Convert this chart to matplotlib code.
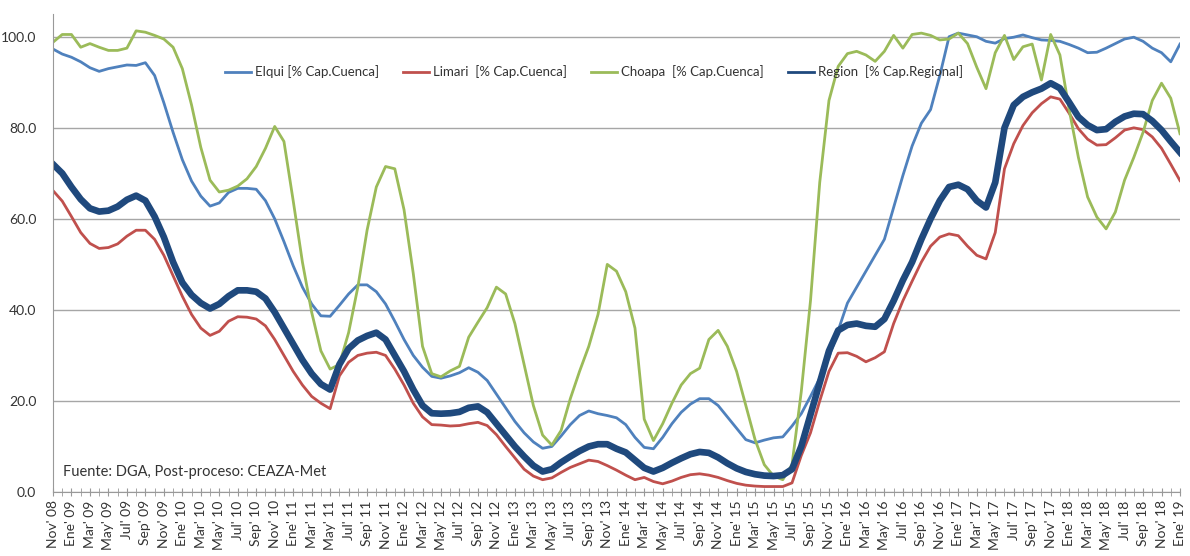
import numpy as np
import matplotlib
matplotlib.use("Agg")
import matplotlib.pyplot as plt

plt.rcParams['font.family'] = ['Lato', 'DejaVu Sans']

# monthly values, Nov 2008 .. Ene 2019 (123 months)
elqui = [97.3, 96.2, 95.5, 94.5, 93.2, 92.4, 93.0, 93.4, 93.8, 93.7, 94.3, 91.5, 85.5, 79, 73, 68.3, 65, 62.8, 63.5, 65.8, 66.7,
         66.7, 66.5, 64, 60, 55, 49.7, 45, 41.3, 38.7, 38.6, 41, 43.5, 45.5, 45.5, 44, 41.3, 37.5, 33.5, 30, 27.4, 25.4,
         25, 25.5, 26.2, 27.3, 26.3, 24.5, 21.5, 18.5, 15.5, 13, 11, 9.6, 10, 12.3, 14.8, 16.8, 17.8, 17.2, 16.8, 16.3,
         14.8, 12, 9.8, 9.5, 12, 15, 17.5, 19.3, 20.5, 20.5, 19, 16.5, 14, 11.5, 10.8, 11.4, 11.9, 12.1, 14.5, 17.2, 21,
         25, 29.5, 35.5, 41.5, 45, 48.5, 52, 55.5, 62.5, 69.5, 76, 81, 84, 91.5, 100, 100.8, 100.4, 100, 99, 98.6,
         99.6, 99.9, 100.4, 99.8, 99.3, 99.2, 99, 98.3, 97.5, 96.5, 96.6, 97.5, 98.5, 99.5, 99.9, 99, 97.5, 96.5, 94.5, 98.4]

limari = [66.2, 63.9, 60.5, 57, 54.6, 53.5, 53.7, 54.5, 56.2, 57.5, 57.5, 55.5, 52, 47.5, 43, 39, 36, 34.4, 35.3, 37.5, 38.5,
          38.4, 38, 36.5, 33.5, 30, 26.5, 23.5, 21, 19.5, 18.3, 25.5, 28.5, 30, 30.5, 30.7, 30, 27, 23.5, 19.5, 16.5, 14.8,
          14.7, 14.5, 14.6, 15, 15.3, 14.6, 12.6, 10, 7.5, 5, 3.5, 2.7, 3.1, 4.3, 5.4, 6.2, 7, 6.7, 5.8, 4.8,
          3.7, 2.7, 3.2, 2.3, 1.8, 2.4, 3.2, 3.8, 4, 3.7, 3.2, 2.5, 1.9, 1.5, 1.3, 1.2, 1.2, 1.2, 2, 8, 13,
          20, 26.5, 30.5, 30.6, 29.8, 28.6, 29.5, 30.8, 37, 42, 46.3, 50.5, 54, 56, 56.7, 56.3, 54, 52, 51.2, 57,
          71, 76.5, 80.5, 83.3, 85.3, 86.8, 86.3, 83.2, 79.8, 77.5, 76.2, 76.3, 77.8, 79.5, 80, 79.6, 78, 75.5, 72, 68.4]

choapa = [98.8, 100.5, 100.5, 97.7, 98.5, 97.7, 97.0, 97.0, 97.5, 101.3, 101.0, 100.3, 99.5, 97.7, 93.0, 85, 75.7, 68.5, 65.9, 66.3, 67.2,
          68.8, 71.5, 75.5, 80.3, 77, 64, 50.5, 39.5, 31, 27, 28, 35, 45, 57.5, 67, 71.5, 71, 62, 48, 32, 26,
          25.3, 26.6, 27.6, 34, 37.3, 40.5, 45, 43.5, 37, 28, 19, 12.5, 10.3, 13.5, 20.5, 26.5, 32, 39, 50, 48.5,
          44, 36, 16, 11.3, 15, 19.5, 23.5, 26, 27.2, 33.5, 35.5, 32, 26.5, 19, 11.5, 6, 3.5, 2.7, 6, 22, 42,
          68, 86, 93.5, 96.3, 96.8, 96, 94.6, 96.8, 100.3, 97.5, 100.5, 100.8, 100.3, 99.3, 99.5, 100.8, 98.5, 93.3, 88.6, 96.5,
          100.3, 95, 97.8, 98.4, 90.5, 100.5, 96, 84, 73.5, 64.8, 60.4, 57.8, 61.5, 68.5, 73.5, 79, 86, 89.8, 86.5, 78.7]

region = [72, 70, 67, 64.3, 62.3, 61.6, 61.8, 62.7, 64.2, 65.1, 64, 60.5, 56, 50.5, 46, 43.3, 41.5, 40.3, 41.3, 43, 44.3,
          44.3, 44, 42.5, 39.5, 36, 32.5, 29, 26, 23.7, 22.5, 28, 31.5, 33.3, 34.3, 35, 33.5, 30, 26.5, 22.5, 19, 17.3,
          17.2, 17.3, 17.6, 18.5, 18.8, 17.5, 15, 12.5, 10, 7.8, 5.8, 4.5, 5, 6.5, 7.8, 9, 10, 10.5, 10.5, 9.5,
          8.7, 7, 5.3, 4.5, 5.3, 6.4, 7.4, 8.3, 8.8, 8.6, 7.6, 6.3, 5.2, 4.4, 3.9, 3.6, 3.5, 3.7, 5, 10, 17,
          24, 31, 35.5, 36.7, 37, 36.5, 36.3, 38, 42, 46.5, 50.5, 55.5, 60, 64, 67, 67.5, 66.5, 64, 62.5, 68,
          80, 85, 86.8, 87.8, 88.6, 89.8, 88.7, 85.6, 82.4, 80.6, 79.5, 79.7, 81.3, 82.5, 83.1, 83, 81.5, 79.5, 77, 74.6]

meses = ["Ene", "Feb", "Mar", "Abr", "May", "Jun", "Jul", "Ago", "Sep", "Oct", "Nov", "Dic"]
series_names = ["Elqui [% Cap.Cuenca]", "Limari  [% Cap.Cuenca]",
                "Choapa  [% Cap.Cuenca]", "Region  [% Cap.Regional]"]

# month labels starting Nov 2008
labels = []
for k in range(len(elqui)):
    m = (10 + k) % 12
    y = 2008 + (10 + k) // 12
    labels.append(f"{meses[m]}' {str(y)[2:]}")

x = np.arange(len(elqui))

fig = plt.figure(figsize=(11.9, 5.56), dpi=100)
ax = fig.add_axes([53 / 1190, 1 - 492 / 556, 1127 / 1190, 478 / 556])

ax.plot(x, elqui, color="#4F81BD", lw=2.0, label=series_names[0])
ax.plot(x, limari, color="#C0504D", lw=2.0, label=series_names[1])
ax.plot(x, choapa, color="#9BBB59", lw=2.0, label=series_names[2])
ax.plot(x, region, color="#1F497D", lw=4.8, label=series_names[3])

ax.set_xlim(0, len(x) - 1)
ax.set_ylim(0, 105)
ax.set_yticks([0, 20, 40, 60, 80, 100])
ax.set_yticklabels([f"{v:.1f}" for v in [0, 20, 40, 60, 80, 100]])
ax.yaxis.grid(True, color="#A6A6A6", lw=1.0)
ax.set_axisbelow(True)

ax.set_xticks(x[::2])
ax.set_xticklabels(labels[::2], rotation=90, fontsize=10, color="#333333")
ax.set_xticks(x, minor=True)
ax.tick_params(axis="x", which="both", direction="inout", length=6, color="#999999", pad=3)
ax.tick_params(axis="y", length=0, labelsize=10, labelcolor="#333333", pad=12)

for s in ["top", "right"]:
    ax.spines[s].set_visible(False)
ax.spines["left"].set_color("#999999")
ax.spines["bottom"].set_color("#999999")

leg = ax.legend(loc="center", bbox_to_anchor=(0.48, 0.879), ncol=4, frameon=False,
                fontsize=9.5, handlelength=2.0, columnspacing=1.8, handletextpad=0.3)
for line in leg.get_lines():
    line.set_linewidth(2.0)
for t in leg.get_texts():
    t.set_color("#333333")

ax.text(0.009, 0.042, "Fuente: DGA, Post-proceso: CEAZA-Met", transform=ax.transAxes,
        fontsize=10.5, color="#333333", va="center", ha="left")

fig.savefig("out.png", dpi=100)
